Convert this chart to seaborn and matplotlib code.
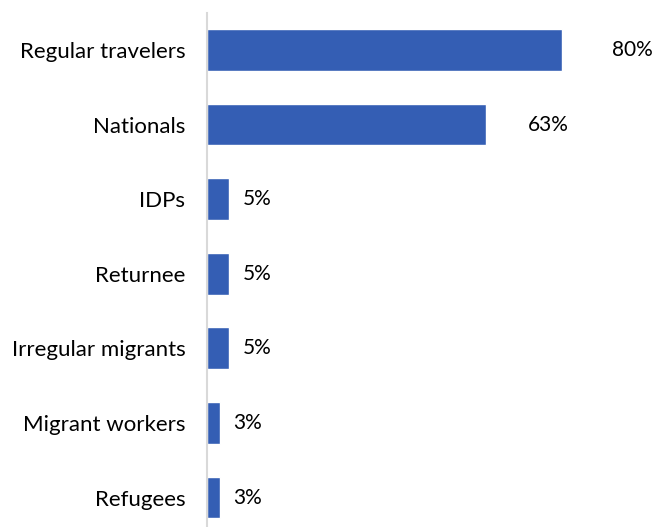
import matplotlib
matplotlib.use("Agg")
import matplotlib.pyplot as plt
import seaborn as sns
import pandas as pd

categories = ["Regular travelers", "Nationals", "IDPs", "Returnee",
              "Irregular migrants", "Migrant workers", "Refugees"]
values = [80, 63, 5, 5, 5, 3, 3]
value_labels = ["80%", "63%", "5%", "5%", "5%", "3%", "3%"]

df = pd.DataFrame({"group": categories, "share": values})

sns.set_theme(style="white")
plt.rcParams["font.family"] = ["Lato", "DejaVu Sans"]

fig = plt.figure(figsize=(6.56, 5.27), dpi=100)
ax = fig.add_axes([0.3155, -0.0148, 0.676, 0.9907])

sns.barplot(data=df, x="share", y="group", orient="h", color="#345EB4",
            saturation=1, width=0.56, ax=ax)

ax.set_xlim(0, 100)
ax.set_ylim(6.5, -0.5)
ax.set_xlabel("")
ax.set_ylabel("")
ax.set_xticks([])
ax.tick_params(axis="y", length=0, pad=15.5, labelsize=16, labelcolor="#000000")

for side in ("top", "right", "bottom"):
    ax.spines[side].set_visible(False)
ax.spines["left"].set_color("#D9D9D9")
ax.spines["left"].set_linewidth(1.5)

# value labels just beyond each bar end
for i, (v, lab) in enumerate(zip(values, value_labels)):
    ax.text(v + 2.5 + 0.11 * v, i, lab, va="center", ha="left",
            fontsize=15, color="#000000", clip_on=False)

fig.savefig("out.png", dpi=100)
